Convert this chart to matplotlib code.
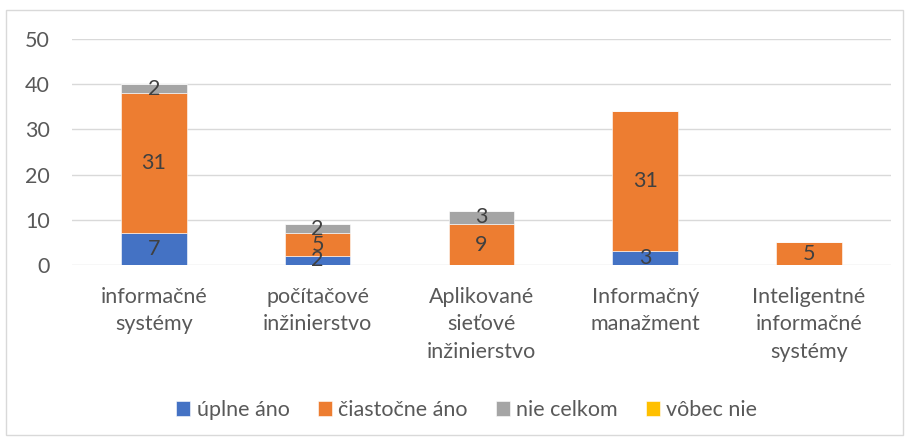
import matplotlib.pyplot as plt
import numpy as np
from matplotlib.patches import Rectangle

plt.rcParams['font.family'] = ['Lato', 'DejaVu Sans']

categories = ['informačné\nsystémy', 'počítačové\ninžinierstvo', 'Aplikované\nsieťové\ninžinierstvo',
              'Informačný\nmanažment', 'Inteligentné\ninformačné\nsystémy']
series_names = ['úplne áno', 'čiastočne áno', 'nie celkom', 'vôbec nie']
uplne_ano = [7, 2, 0, 3, 0]
ciastocne_ano = [31, 5, 9, 31, 5]
nie_celkom = [2, 2, 3, 0, 0]
vobec_nie = [0, 0, 0, 0, 0]
colors = ['#4472C4', '#ED7D31', '#A5A5A5', '#FFC000']

fs = 15.5
fig = plt.figure(figsize=(9.1, 4.4), dpi=100)
ax = fig.add_axes([0.079, 0.398, 0.900, 0.513])

x = np.arange(len(categories))
bottom = np.zeros(len(categories))
for name, vals, c in zip(series_names, [uplne_ano, ciastocne_ano, nie_celkom, vobec_nie], colors):
    vals = np.array(vals, dtype=float)
    ax.bar(x, vals, 0.4, bottom=bottom, color=c, label=name, edgecolor='white', linewidth=0.4, zorder=3)
    for xi, v, b in zip(x, vals, bottom):
        if v > 0:
            ax.text(xi, b + v / 2, f'{int(v)}', ha='center', va='center', fontsize=fs, color='#404040', zorder=4)
    bottom += vals

ax.set_ylim(0, 50)
ax.set_xlim(-0.5, len(categories) - 0.5)
ax.set_yticks(range(0, 51, 10))
ax.set_xticks(x)
ax.set_xticklabels(categories, fontsize=fs, color='#595959', linespacing=1.45)
ax.tick_params(axis='y', labelsize=fs, labelcolor='#595959', length=0, pad=16)
ax.tick_params(axis='x', length=0, pad=16)
ax.grid(axis='y', color='#D9D9D9', linewidth=1, zorder=0)
for s in ax.spines.values():
    s.set_visible(False)

fig.legend(loc='center', bbox_to_anchor=(0.513, 0.068), ncol=4, frameon=False, fontsize=fs,
           handlelength=0.65, handleheight=0.65, handletextpad=0.3, columnspacing=1.3,
           labelcolor='#595959')

fig.patches.append(Rectangle((0.007, 0.012), 0.985, 0.965, transform=fig.transFigure,
                             fill=False, edgecolor='#D9D9D9', linewidth=1))

fig.savefig('out.png', dpi=100)
